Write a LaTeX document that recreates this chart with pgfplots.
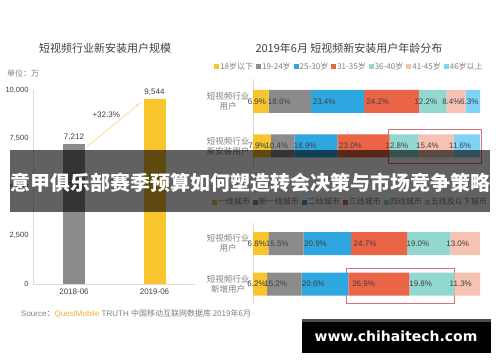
\documentclass[border=0pt]{standalone}
\usepackage{pgfplots}
\pgfplotsset{compat=1.18}
\usetikzlibrary{arrows.meta}
\usepackage{fontspec}
\setmainfont{Liberation Sans}
\newfontfamily\cjk{Noto Sans CJK SC}
\newfontfamily\dvs{DejaVu Sans}
\definecolor{cY}{HTML}{F8C52C}
\definecolor{cG}{HTML}{8B8B8B}
\definecolor{cB}{HTML}{2EA7E0}
\definecolor{cR}{HTML}{EB6446}
\definecolor{cT}{HTML}{93D8CF}
\definecolor{cP}{HTML}{F7C1B3}
\definecolor{cL}{HTML}{7FD3F7}
\definecolor{txt}{HTML}{404040}
\definecolor{lgt}{HTML}{7F7F7F}
\definecolor{axl}{HTML}{D9D9D9}
\definecolor{boxc}{HTML}{D9707C}
\definecolor{qm}{HTML}{F2B33D}
\definecolor{arr}{HTML}{F5DC8A}
\pgfplotsset{
  hbar/.style={
    xbar stacked, bar width=23pt, scale only axis, width=227pt,
    xmin=0, xmax=100, ymin=-0.5, ymax=1.5, clip=false,
    axis x line=none, xtick=\empty,
    axis y line*=left, y axis line style={draw=axl, line width=0.8pt},
    ytick={0,1}, major tick length=0pt,
    yticklabel style={font=\cjk\fontsize{8.5}{10}\selectfont, align=center, text=lgt},
    legend style={draw=none, fill=none, font=\cjk\fontsize{8}{9}\selectfont, text=lgt,
      legend columns=-1, anchor=center,
      /tikz/every even column/.append style={column sep=2pt},
      nodes={inner sep=1pt}},
    legend image code/.code={\fill[##1] (0pt,-2.5pt) rectangle (5pt,2.5pt);},
    /pgf/number format/assume math mode=true,
    visualization depends on=\thisrow{v} \as \rawx,
    nodes near coords={\pgfmathprintnumber[fixed,fixed zerofill,precision=1]{\rawx}\%},
    every node near coord/.append style={anchor=center, shift={(axis direction cs:-\rawx/4,0)},
      font=\fontsize{8}{9}\selectfont, text=txt},
    table/row sep=\\, table/x=v, table/y=r,
  }
}
\begin{document}
\begin{tikzpicture}[x=1pt,y=1pt]
\fill[white] (0,0) rectangle (500,362);
\useasboundingbox (0,0) rectangle (500,362);

% ---------- left chart ----------
\node[font=\cjk\fontsize{11}{13}\selectfont, text=txt] at (105,314) {短视频行业新安装用户规模};
\node[font=\cjk\fontsize{8}{9}\selectfont, text=lgt, anchor=west, inner sep=0pt] at (7,289) {单位：万};
\begin{axis}[at={(33pt,78pt)}, anchor=south west, scale only axis, width=162pt, height=194pt,
  ymin=0, ymax=10000, xmin=-0.509, xmax=1.503, clip=false,
  ybar, bar width=22pt,
  axis x line*=bottom, axis y line*=left, axis line style={draw=axl, line width=0.8pt},
  xtick={0,1}, xticklabels={2018-06,2019-06}, ytick={0,2500,5000,7500,10000},
  major tick length=0pt, scaled y ticks=false,
  /pgf/number format/1000 sep={,}, /pgf/number format/assume math mode=true,
  yticklabel style={font=\fontsize{7.5}{9}\selectfont, text=txt, xshift=-1pt},
  xticklabel style={font=\fontsize{8}{9}\selectfont, text=txt, yshift=-1pt},
  nodes near coords, every node near coord/.append style={font=\fontsize{8}{9}\selectfont, text=txt},
  ]
\addplot[fill=cG, draw=none, bar shift=0pt] coordinates {(0,7212)};
\addplot[fill=cY, draw=none, bar shift=0pt] coordinates {(1,9544)};
\draw[arr, line width=0.7pt, -{Stealth[length=4pt]}] (axis cs:0.16,7062) -- (axis cs:0.82,9330);
\node[font=\fontsize{8}{9}\selectfont, text=txt] at (axis cs:0.40,8711) {+32.3\%};
\end{axis}
\node[font=\fontsize{8}{9}\selectfont, text=lgt, anchor=west, inner sep=0pt] at (21,48)
  {Source{\cjk ：}\textcolor{qm}{QuestMobile} TRUTH {\cjk 中国移动互联网数据库 2019年6月}};

% ---------- right top chart ----------
\node[font=\cjk\fontsize{11}{13}\selectfont, text=txt] at (349,314) {2019年6月 短视频新安装用户年龄分布};
\begin{axis}[hbar, at={(253pt,193.75pt)}, anchor=south west, height=89pt,
  yticklabels={{短视频行业\\新安装用户},{短视频行业\\用户}},
  legend style={at={(0.423,1.138)}}]
\addplot[fill=cY, draw=none] table {r v\\ 1 6.9\\ 0 7.9\\};
\addplot[fill=cG, draw=none] table {r v\\ 1 18.6\\ 0 10.4\\};
\addplot[fill=cB, draw=none] table {r v\\ 1 23.4\\ 0 18.9\\};
\addplot[fill=cR, draw=none] table {r v\\ 1 24.2\\ 0 23.0\\};
\addplot[fill=cT, draw=none] table {r v\\ 1 12.2\\ 0 12.8\\};
\addplot[fill=cP, draw=none] table {r v\\ 1 8.4\\ 0 15.4\\};
\addplot[fill=cL, draw=none] table {r v\\ 1 6.3\\ 0 11.6\\};
\legend{18岁以下,19-24岁,25-30岁,31-35岁,36-40岁,41-45岁,46岁以上}
\draw[boxc, line width=0.8pt] (axis cs:59.5,0.38) rectangle (axis cs:100.5,-0.40);
\end{axis}

% ---------- right bottom chart ----------
\begin{axis}[hbar, at={(253pt,57.75pt)}, anchor=south west, height=81pt,
  yticklabels={{短视频行业\\新增用户},{短视频行业\\用户}},
  legend style={at={(0.427,1.262)}}]
\addplot[fill=cY, draw=none] table {r v\\ 1 6.8\\ 0 6.2\\};
\addplot[fill=cG, draw=none] table {r v\\ 1 15.5\\ 0 15.2\\};
\addplot[fill=cB, draw=none] table {r v\\ 1 20.9\\ 0 20.6\\};
\addplot[fill=cR, draw=none] table {r v\\ 1 24.7\\ 0 26.9\\};
\addplot[fill=cT, draw=none] table {r v\\ 1 19.0\\ 0 19.8\\};
\addplot[fill=cP, draw=none] table {r v\\ 1 13.0\\ 0 11.3\\};
\legend{一线城市,新一线城市,二线城市,三线城市,四线城市,五线及以下城市}
\draw[boxc, line width=0.8pt] (axis cs:41.0,0.395) rectangle (axis cs:88.6,-0.47);
\end{axis}

% ---------- banner ----------
\fill[black, opacity=0.62] (10,150) rectangle (490,212);
\node[text=white, font=\cjk\bfseries\fontsize{20}{22}\selectfont] at (250,179) {意甲俱乐部赛季预算如何塑造转会决策与市场竞争策略};

% ---------- watermark ----------
\fill[black] (302,9) rectangle (491,40);
\fill[black!70] (302,40) rectangle (491,43);
\node[text=white, font=\dvs\bfseries\fontsize{14}{16}\selectfont] at (396,26) {www.chihaitech.com};
\end{tikzpicture}
\end{document}
